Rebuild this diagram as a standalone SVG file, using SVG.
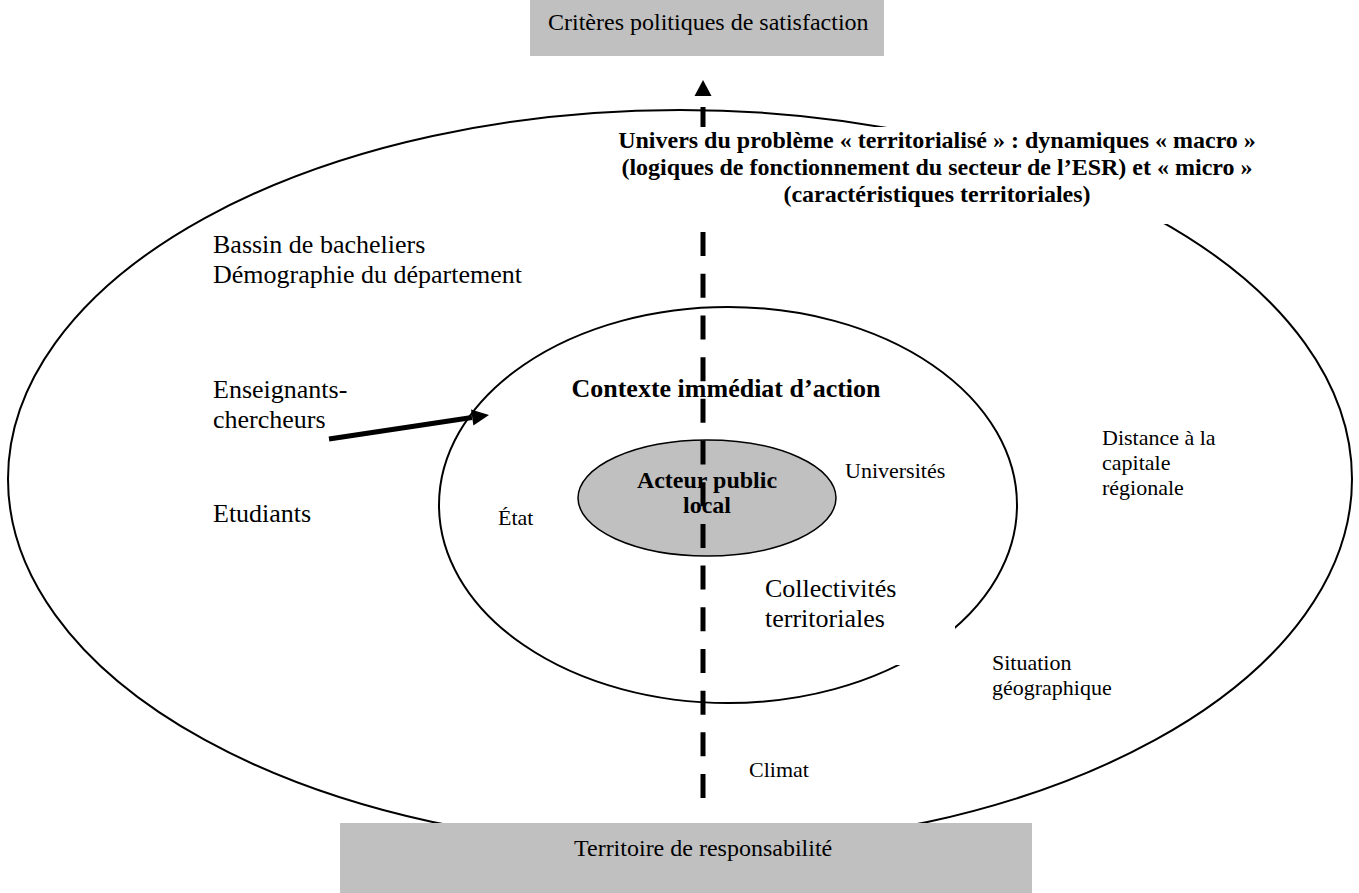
<svg xmlns="http://www.w3.org/2000/svg" width="1359" height="893" viewBox="0 0 1359 893">
<style>
.t{font-family:"Liberation Serif","Times New Roman",serif;fill:#000}
.b{font-weight:bold}
.s26{font-size:26px}
.s24{font-size:24px}
.s22{font-size:22px}
.mid{text-anchor:middle}
.box{fill:#c0c0c0}
.ring{fill:none;stroke:#000;stroke-width:2}
.mask{fill:#fff}
</style>
<rect width="1359" height="893" fill="#fff"/>
<g id="univers">
  <ellipse class="ring" cx="680" cy="479" rx="672" ry="369"/>
</g>
<g id="contexte">
  <ellipse class="ring" cx="728" cy="505" rx="289" ry="198"/>
</g>
<g id="acteur">
  <ellipse cx="707" cy="498" rx="129" ry="58" fill="#c0c0c0" stroke="#000" stroke-width="1.5"/>
</g>
<g id="connectors">
  <line x1="703" y1="107" x2="703" y2="798" stroke="#000" stroke-width="5" stroke-dasharray="24 17.69"/>
  <polygon points="703,80 694.5,96 711.5,96" fill="#000"/>
  <line x1="329" y1="439" x2="472" y2="417.5" stroke="#000" stroke-width="5"/>
  <polygon points="489,415 471,409.6 473.4,425.4" fill="#000"/>
</g>
<g id="univers-label">
  <rect class="mask" x="617" y="127" width="640" height="97"/>
  <text class="t b s24 mid" x="937" y="148">Univers du problème « territorialisé » : dynamiques « macro »</text>
  <text class="t b s24 mid" x="937" y="175">(logiques de fonctionnement du secteur de l’ESR) et « micro »</text>
  <text class="t b s24 mid" x="937" y="202">(caractéristiques territoriales)</text>
</g>
<g id="acteur-label">
  <text class="t b s24 mid" x="707" y="488">Acteur public</text>
  <text class="t b s24 mid" x="707" y="513">local</text>
</g>
<g id="contexte-label">
  <text class="t b s26 mid" x="726" y="397">Contexte immédiat d’action</text>
</g>
<g id="bassin">
  <text class="t s26" x="213" y="253">Bassin de bacheliers</text>
  <text class="t s26" x="213" y="283">Démographie du département</text>
</g>
<g id="enseignants">
  <text class="t s26" x="213" y="398">Enseignants-</text>
  <text class="t s26" x="213" y="428">chercheurs</text>
</g>
<g id="etudiants">
  <text class="t s26" x="213" y="522">Etudiants</text>
</g>
<g id="etat">
  <text class="t s22" x="498" y="525">État</text>
</g>
<g id="universites">
  <text class="t s22" x="845" y="478">Universités</text>
</g>
<g id="collectivites">
  <rect class="mask" x="760" y="570" width="195" height="95"/>
  <text class="t s26" x="765" y="597">Collectivités</text>
  <text class="t s26" x="765" y="627">territoriales</text>
</g>
<g id="distance">
  <text class="t s22" x="1102" y="445">Distance à la</text>
  <text class="t s22" x="1102" y="470">capitale</text>
  <text class="t s22" x="1102" y="495">régionale</text>
</g>
<g id="situation">
  <text class="t s22" x="992" y="670">Situation</text>
  <text class="t s22" x="992" y="695">géographique</text>
</g>
<g id="climat">
  <text class="t s22" x="749" y="777">Climat</text>
</g>
<g id="criteres">
  <rect class="box" x="530" y="0" width="354" height="56"/>
  <text class="t s24" x="548" y="30">Critères politiques de satisfaction</text>
</g>
<g id="territoire">
  <rect class="box" x="340" y="823" width="692" height="70"/>
  <text class="t s24" x="574" y="856">Territoire de responsabilité</text>
</g>
</svg>
